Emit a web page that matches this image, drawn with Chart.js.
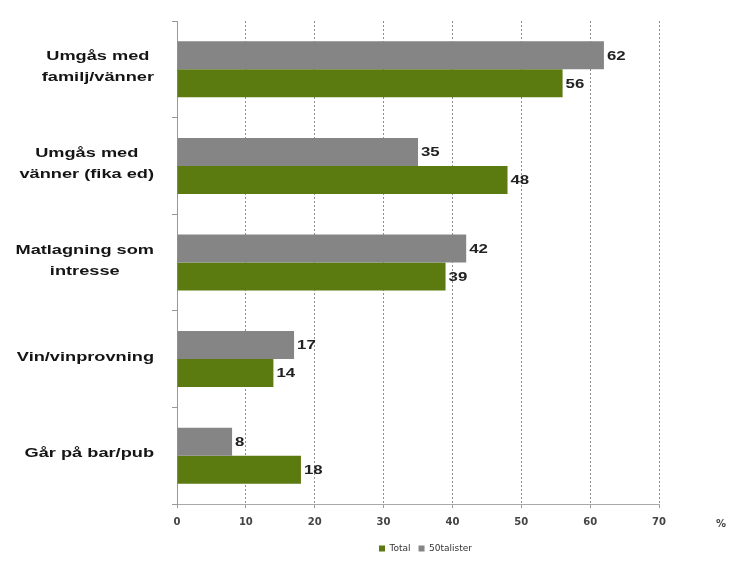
<!DOCTYPE html>
<html>
<head>
<meta charset="utf-8">
<script src="https://cdn.jsdelivr.net/npm/chart.js@4/dist/chart.umd.min.js"></script>
<style>
  html, body { margin: 0; padding: 0; background: #fff; }
  #wrap { width: 730px; height: 568px; }
</style>
</head>
<body>
<div id="wrap"><canvas id="c" width="730" height="568"></canvas></div>
<script>
const categories = [
  ["Umgås med", "familj/vänner"],
  ["Umgås med", "vänner (fika ed)"],
  ["Matlagning som", "intresse"],
  ["Vin/vinprovning"],
  ["Går på bar/pub"]
];
const seriesNames = ["50talister", "Total"];
const values50talister = [62, 35, 42, 17, 8];
const valuesTotal = [56, 48, 39, 14, 18];
const xTicks = [0, 10, 20, 30, 40, 50, 60, 70];
const unitLabel = "%";

const GRAY = "#858585";
const GREEN = "#5b7a10";
const FONT = "'Liberation Sans', Arial, sans-serif";
const WIDE = "'DejaVu Sans', sans-serif";
const STRETCH = 1.4;

function stretchedText(ctx, text, x, y, sx, align) {
  const w = ctx.measureText(text).width * sx;
  let left = x;
  if (align === 'center') left = x - w / 2;
  else if (align === 'right') left = x - w;
  ctx.save();
  ctx.translate(left, y);
  ctx.scale(sx, 1);
  ctx.textAlign = 'left';
  ctx.fillText(text, 0, 0);
  ctx.restore();
}

const helperPlugin = {
  id: 'helper',
  afterLayout(chart) {
    const lg = chart.legend;
    if (lg) { lg.left += 96; lg.right += 96; }
  },
  afterDatasetsDraw(chart) {
    const ctx = chart.ctx;
    ctx.save();
    // data labels
    ctx.font = "bold 12px " + FONT;
    ctx.fillStyle = "#222";
    ctx.textBaseline = "middle";
    chart.data.datasets.forEach((ds, di) => {
      const meta = chart.getDatasetMeta(di);
      meta.data.forEach((bar, i) => {
        stretchedText(ctx, String(ds.data[i]), bar.x + 3, bar.y + 1, 1.4, 'left');
      });
    });
    // category labels (right aligned block, centred lines)
    const y = chart.scales.y;
    ctx.font = "bold 13px " + FONT;
    ctx.fillStyle = "#151515";
    const rightEdge = 154;
    const lh = 21;
    chart.data.labels.forEach((lab, i) => {
      const lines = Array.isArray(lab) ? lab : [lab];
      const w = Math.max(...lines.map(l => ctx.measureText(l).width)) * STRETCH;
      const cx = rightEdge - w / 2;
      const cy = y.getPixelForValue(i) - 2;
      lines.forEach((l, k) => {
        stretchedText(ctx, l, cx, cy + (k - (lines.length - 1) / 2) * lh, STRETCH, 'center');
      });
    });
    // unit label
    const x = chart.scales.x;
    ctx.font = "bold 10px " + WIDE;
    ctx.fillStyle = "#444";
    ctx.textAlign = "center";
    ctx.fillText(unitLabel, x.right + 62, x.top + 20);
    ctx.restore();
  }
};

new Chart(document.getElementById('c'), {
  type: 'bar',
  data: {
    labels: categories,
    datasets: [
      { label: seriesNames[0], data: values50talister, backgroundColor: GRAY, barPercentage: 1, categoryPercentage: 0.58 },
      { label: seriesNames[1], data: valuesTotal, backgroundColor: GREEN, barPercentage: 1, categoryPercentage: 0.58 }
    ]
  },
  options: {
    indexAxis: 'y',
    responsive: false,
    animation: false,
    devicePixelRatio: 1,
    layout: { padding: { left: 0, right: 71, top: 21, bottom: 5 } },
    scales: {
      x: {
        min: 0, max: 70,
        afterBuildTicks(scale) { scale.ticks = xTicks.map(v => ({ value: v })); },
        grid: {
          color: "#8c8c8c",
          lineWidth: 1,
          drawTicks: true,
          tickLength: 4,
          tickColor: "#9a9a9a",
          tickBorderDash: []
        },
        border: { display: true, color: "#a8a8a8", dash: [2, 2] },
        ticks: { font: { family: WIDE, size: 10, weight: 'bold' }, color: "#444", padding: 8, maxRotation: 0 }
      },
      y: {
        afterFit(scale) { scale.width = 177; },
        grid: { drawOnChartArea: false, drawTicks: true, tickLength: 5, color: "#999", offset: true },
        border: { display: true, color: "#999" },
        ticks: { display: false }
      }
    },
    plugins: {
      legend: {
        position: 'bottom',
        reverse: true,
        labels: { boxWidth: 6, boxHeight: 6, font: { family: WIDE, size: 9 }, color: "#333", padding: 8 }
      },
      tooltip: { enabled: false }
    }
  },
  plugins: [helperPlugin]
});
</script>
</body>
</html>
